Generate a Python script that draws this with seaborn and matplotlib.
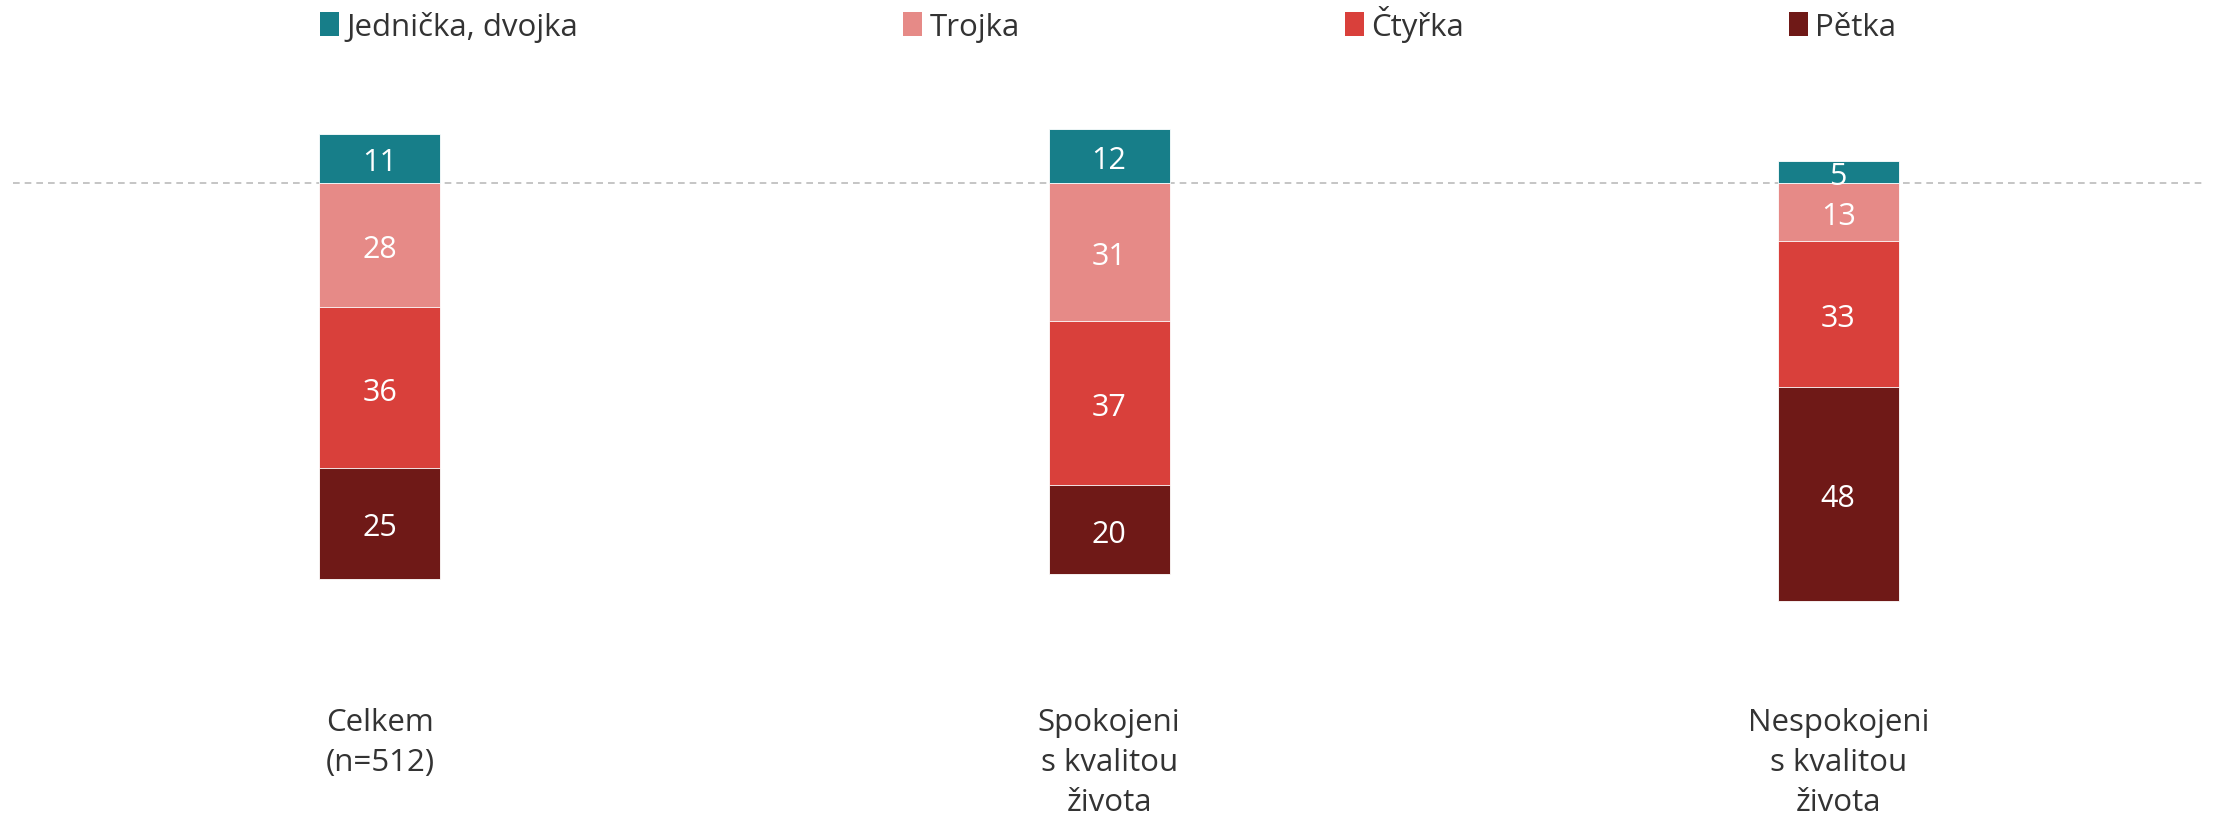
import numpy as np
import pandas as pd
import seaborn as sns
import matplotlib.pyplot as plt
from matplotlib.patches import Patch

# data
groups = ['Celkem\n(n=512)', 'Spokojeni\ns kvalitou\nživota', 'Nespokojeni\ns kvalitou\nživota']
jednicka = [11, 12, 5]
trojka = [28, 31, 13]
ctyrka = [36, 37, 33]
petka = [25, 20, 48]
series_names = ['Jednička, dvojka', 'Trojka', 'Čtyřka', 'Pětka']

colors = {'Jednička, dvojka': '#177E89', 'Trojka': '#E68A87',
          'Čtyřka': '#D9403B', 'Pětka': '#6F1917'}

sns.set_style('white')
plt.rcParams['font.family'] = ['Open Sans', 'DejaVu Sans']

df = pd.DataFrame({'group': groups, 'j': jednicka, 't': trojka, 'c': ctyrka, 'p': petka})
df['neg_t'] = -df['t']
df['neg_c'] = -(df['t'] + df['c'])
df['neg_p'] = -(df['t'] + df['c'] + df['p'])

fig = plt.figure(figsize=(22.16, 8.2), dpi=100)
ax = fig.add_axes([0, 0, 1, 1])
w = 0.166
# stacked layers, drawn from the longest down to the shortest
sns.barplot(data=df, x='group', y='neg_p', color=colors['Pětka'], width=w, saturation=1,
            edgecolor='white', linewidth=0.6, ax=ax)
sns.barplot(data=df, x='group', y='neg_c', color=colors['Čtyřka'], width=w, saturation=1,
            edgecolor='white', linewidth=0.6, ax=ax)
sns.barplot(data=df, x='group', y='neg_t', color=colors['Trojka'], width=w, saturation=1,
            edgecolor='white', linewidth=0.6, ax=ax)
sns.barplot(data=df, x='group', y='j', color=colors['Jednička, dvojka'], width=w, saturation=1,
            edgecolor='white', linewidth=0.6, ax=ax)

# value labels
for i, row in df.iterrows():
    segs = [(0, row['j']), (0, row['neg_t']), (row['neg_t'], row['neg_c']), (row['neg_c'], row['neg_p'])]
    vals = [row['j'], row['t'], row['c'], row['p']]
    for (a, b), v in zip(segs, vals):
        ax.annotate(str(v), xy=(i, (a + b) / 2), xytext=(0, -3), textcoords='offset points',
                    ha='center', va='center', color='white', fontsize=22)

# category labels under bars
for i, g in enumerate(groups):
    ax.text(i, -117.9, g, ha='center', va='top', multialignment='center', fontsize=22.5,
            color='#333333', linespacing=1.42)

ax.axhline(0, color='#BBBBBB', linestyle=(0, (4, 3)), linewidth=1.2, xmin=0.006, xmax=0.995, zorder=0)
ax.set_xlim(-0.521, 2.518)
ax.set_ylim(-143, 41.3)
ax.axis('off')

handles = [Patch(facecolor=colors[n], edgecolor='none') for n in series_names]
fig.legend(handles, series_names, loc='upper left', bbox_to_anchor=(320 / 2216, 1 - 6 / 820),
           ncol=4, frameon=False, fontsize=22.5, handlelength=0.62, handleheight=0.8,
           handletextpad=0.22, columnspacing=10.4, borderpad=0, borderaxespad=0,
           labelcolor='#333333')

fig.savefig('out.png', dpi=100)
